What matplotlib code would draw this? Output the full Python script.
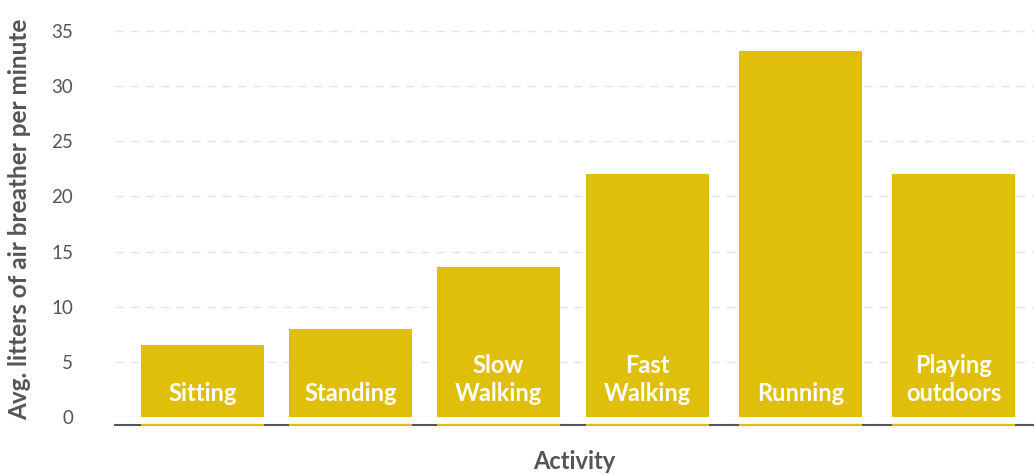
import matplotlib.pyplot as plt

# dati
activities = ['Sitting', 'Standing', 'Slow\nWalking', 'Fast\nWalking', 'Running', 'Playing\noutdoors']
litres = [6.5, 8, 13.6, 22, 33.2, 22]
positions = [0, 0.987, 1.973, 2.967, 3.987, 5.007]

gold = '#E0BF0B'
grey = '#555555'

fig = plt.figure(figsize=(10.34, 4.74), dpi=100)
ax = fig.add_axes([115 / 1034, (474 - 417) / 474, (1034 - 115) / 1034, 417 / 474])

ax.bar(positions, litres, width=0.82, color=gold, zorder=2)
for x, lab in zip(positions, activities):
    ax.text(x, 1.05, lab, ha='center', va='bottom', color='white', fontsize=17,
            fontweight='bold', family='Lato', linespacing=1.3, zorder=3)

# linea dorata sotto le barre, sulla linea dell'asse
ax.hlines([-8 / 417] * len(positions), [p - 0.41 for p in positions],
          [p + 0.41 for p in positions], transform=ax.get_xaxis_transform(),
          color=gold, linewidth=1.5, clip_on=False, zorder=5)

ax.set_xlim(-0.583, 5.544)
ax.set_ylim(0, 37.8)
ax.set_yticks(range(0, 36, 5))
ax.set_xticks([])
ax.grid(axis='y', color='#e4e4e4', linestyle=(0, (6, 5)), linewidth=1, zorder=0)
ax.set_axisbelow(True)

for s in ['top', 'right', 'left']:
    ax.spines[s].set_visible(False)
ax.spines['bottom'].set_position(('outward', 5.8))
ax.spines['bottom'].set_color(grey)
ax.spines['bottom'].set_linewidth(1.5)
ax.tick_params(axis='y', length=0, pad=30, labelsize=13.5, labelcolor=grey)
for t in ax.get_yticklabels():
    t.set_family('Lato')

ax.set_ylabel('Avg. litters of air breather per minute', fontsize=17.5, fontweight='bold',
              color=grey, family='Lato')
ax.yaxis.set_label_coords(-84 / 919, 0.475)
ax.set_xlabel('Activity', fontsize=17, fontweight='bold', color=grey, family='Lato', labelpad=18)

fig.savefig('out.png', dpi=100)
